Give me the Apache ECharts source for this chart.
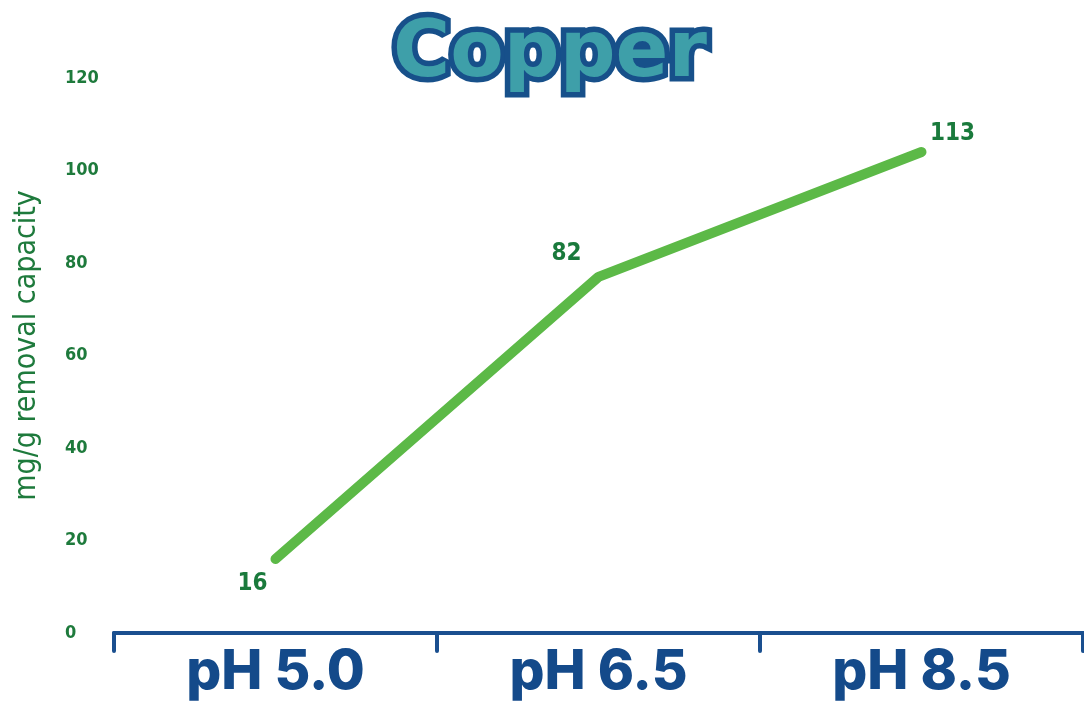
<!DOCTYPE html>
<html><head><meta charset="utf-8">
<script src="https://cdn.jsdelivr.net/npm/echarts@6/dist/echarts.min.js"></script>
<style>html,body{margin:0;padding:0;background:#fff}#c{width:1084px;height:701px}</style>
</head><body><div id="c"></div>
<script>
const categories = ['pH 5.0', 'pH 6.5', 'pH 8.5'];
const plottedValues = [16, 77, 104];
const labelTexts = ['16', '82', '113'];
const yTicks = [0, 20, 40, 60, 80, 100, 120];

const labelOffsets = [[-23, 25], [-32, -23], [31, -18]];

const chart = echarts.init(document.getElementById('c'), null, {renderer: 'canvas'});
chart.setOption({
  animation: false,
  title: {
    text: 'Copper', left: 388, top: 12,
    textStyle: {fontFamily: 'DejaVu Sans', fontWeight: 'bold', fontSize: 78, color: '#3e9fa9',
      textBorderColor: '#17508a', textBorderWidth: 11}
  },
  grid: {left: 114, right: 1, top: 78, bottom: 68},
  xAxis: {
    type: 'category', data: categories, boundaryGap: true,
    axisLine: {lineStyle: {color: '#1a4f8f', width: 4}},
    axisTick: {show: true, length: 18, lineStyle: {color: '#1a4f8f', width: 4, cap: 'round'}},
    axisLabel: {color: '#144a8a', fontFamily: 'Inter', fontWeight: 800, fontSize: 55, margin: 12}
  },
  yAxis: {
    type: 'value', min: yTicks[0], max: yTicks[yTicks.length - 1], interval: 20,
    splitLine: {show: false}, axisLine: {show: false}, axisTick: {show: false},
    axisLabel: {color: '#1e7a3c', fontFamily: 'DejaVu Sans Condensed', fontWeight: 'bold', fontSize: 18, align: 'left', margin: 49},
    name: 'mg/g removal capacity', nameLocation: 'middle', nameGap: 72, nameRotate: 90,
    nameTextStyle: {color: '#1e7a3c', fontFamily: 'DejaVu Sans Condensed', fontSize: 30, padding: [0, 0, 0, 20]}
  },
  series: [{
    type: 'line', symbol: 'circle', symbolSize: 1, showSymbol: true,
    itemStyle: {color: 'rgba(0,0,0,0)'},
    lineStyle: {color: '#5cb947', width: 10, cap: 'round', join: 'round'},
    data: plottedValues.map((v, i) => ({
      value: v,
      label: {show: true, position: 'inside', offset: labelOffsets[i], formatter: labelTexts[i],
        color: '#1a7a3c', fontFamily: 'DejaVu Sans Condensed', fontWeight: 'bold', fontSize: 24}
    }))
  }]
});
</script></body></html>
